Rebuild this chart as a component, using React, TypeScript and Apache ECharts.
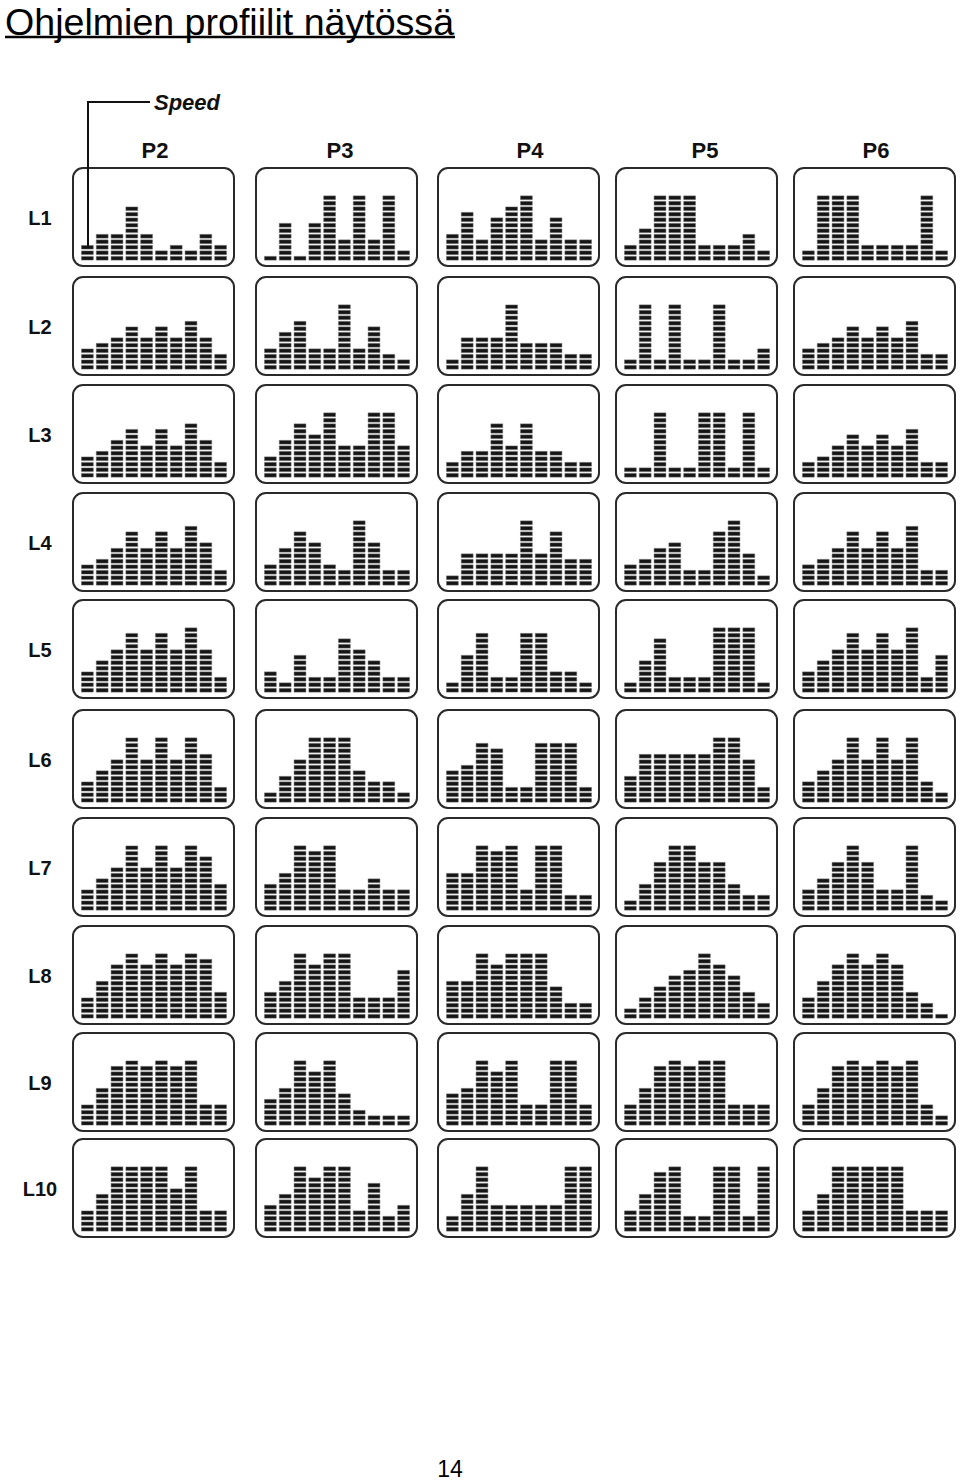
import React, { useEffect, useRef } from "react";
import * as echarts from "echarts";

// ---------- labels ----------
const PROGRAMS = ["P2", "P3", "P4", "P5", "P6"];
const LEVELS = ["L1", "L2", "L3", "L4", "L5", "L6", "L7", "L8", "L9", "L10"];
const STEPS = ["1", "2", "3", "4", "5", "6", "7", "8", "9", "10"];
const TITLE = "Ohjelmien profiilit näytössä";
const SPEED_LABEL = "Speed";
const PAGE_NUMBER = "14";
const MAX_SEGMENTS = 12;

// ---------- profile values (number of lit segments per step) ----------
const L1_P2 = [3, 5, 5, 10, 5, 2, 3, 2, 5, 3];
const L1_P3 = [1, 7, 1, 7, 12, 4, 12, 4, 12, 2];
const L1_P4 = [5, 9, 4, 8, 10, 12, 4, 8, 4, 4];
const L1_P5 = [3, 6, 12, 12, 12, 3, 3, 3, 5, 2];
const L1_P6 = [2, 12, 12, 12, 3, 3, 3, 3, 12, 2];

const L2_P2 = [4, 5, 6, 8, 6, 8, 6, 9, 6, 3];
const L2_P3 = [4, 7, 9, 4, 4, 12, 4, 8, 3, 2];
const L2_P4 = [2, 6, 6, 6, 12, 5, 5, 5, 3, 3];
const L2_P5 = [2, 12, 2, 12, 2, 2, 12, 2, 2, 4];
const L2_P6 = [4, 5, 6, 8, 6, 8, 6, 9, 3, 3];

const L3_P2 = [4, 5, 7, 9, 6, 9, 6, 10, 7, 3];
const L3_P3 = [4, 7, 10, 8, 12, 6, 6, 12, 12, 6];
const L3_P4 = [3, 5, 5, 10, 6, 10, 5, 5, 3, 3];
const L3_P5 = [2, 2, 12, 2, 2, 12, 12, 2, 12, 2];
const L3_P6 = [3, 4, 6, 8, 6, 8, 6, 9, 3, 3];

const L4_P2 = [4, 5, 7, 10, 7, 10, 7, 11, 8, 3];
const L4_P3 = [4, 7, 10, 8, 4, 3, 12, 8, 3, 3];
const L4_P4 = [2, 6, 6, 6, 6, 12, 6, 10, 5, 5];
const L4_P5 = [4, 5, 7, 8, 3, 3, 10, 12, 6, 2];
const L4_P6 = [4, 5, 7, 10, 7, 10, 7, 11, 3, 3];

const L5_P2 = [4, 6, 8, 11, 8, 11, 8, 12, 8, 3];
const L5_P3 = [4, 2, 7, 3, 3, 10, 8, 6, 3, 3];
const L5_P4 = [2, 7, 11, 3, 3, 11, 11, 4, 4, 2];
const L5_P5 = [2, 6, 10, 3, 3, 3, 12, 12, 12, 2];
const L5_P6 = [4, 6, 8, 11, 8, 11, 8, 12, 3, 7];

const L6_P2 = [4, 6, 8, 12, 8, 12, 8, 12, 9, 3];
const L6_P3 = [2, 5, 8, 12, 12, 12, 6, 4, 4, 2];
const L6_P4 = [6, 7, 11, 10, 3, 3, 11, 11, 11, 3];
const L6_P5 = [5, 9, 9, 9, 9, 9, 12, 12, 8, 3];
const L6_P6 = [4, 6, 8, 12, 8, 12, 8, 12, 4, 2];

const L7_P2 = [4, 6, 8, 12, 8, 12, 8, 12, 10, 5];
const L7_P3 = [5, 7, 12, 11, 12, 4, 4, 6, 4, 4];
const L7_P4 = [7, 7, 12, 11, 12, 4, 12, 12, 3, 3];
const L7_P5 = [2, 5, 9, 12, 12, 9, 9, 5, 3, 3];
const L7_P6 = [4, 6, 9, 12, 9, 4, 4, 12, 3, 2];

const L8_P2 = [4, 7, 10, 12, 10, 12, 10, 12, 11, 5];
const L8_P3 = [5, 7, 12, 10, 12, 12, 4, 4, 4, 9];
const L8_P4 = [7, 7, 12, 10, 12, 12, 12, 6, 3, 3];
const L8_P5 = [2, 4, 6, 8, 9, 12, 10, 8, 5, 3];
const L8_P6 = [4, 7, 10, 12, 10, 12, 10, 5, 3, 1];

const L9_P2 = [4, 7, 11, 12, 11, 12, 11, 12, 4, 4];
const L9_P3 = [5, 7, 12, 10, 12, 6, 3, 2, 2, 2];
const L9_P4 = [6, 7, 12, 10, 12, 4, 4, 12, 12, 4];
const L9_P5 = [4, 7, 11, 12, 11, 12, 12, 4, 4, 4];
const L9_P6 = [4, 7, 11, 12, 11, 12, 11, 12, 4, 2];

const L10_P2 = [4, 7, 12, 12, 12, 12, 8, 12, 4, 4];
const L10_P3 = [5, 7, 12, 10, 12, 12, 4, 9, 3, 5];
const L10_P4 = [3, 7, 12, 5, 5, 5, 5, 5, 12, 12];
const L10_P5 = [4, 7, 11, 12, 3, 3, 12, 12, 3, 12];
const L10_P6 = [4, 7, 12, 12, 12, 12, 12, 4, 4, 4];

const PROFILE_ROWS = [
  [L1_P2, L1_P3, L1_P4, L1_P5, L1_P6],
  [L2_P2, L2_P3, L2_P4, L2_P5, L2_P6],
  [L3_P2, L3_P3, L3_P4, L3_P5, L3_P6],
  [L4_P2, L4_P3, L4_P4, L4_P5, L4_P6],
  [L5_P2, L5_P3, L5_P4, L5_P5, L5_P6],
  [L6_P2, L6_P3, L6_P4, L6_P5, L6_P6],
  [L7_P2, L7_P3, L7_P4, L7_P5, L7_P6],
  [L8_P2, L8_P3, L8_P4, L8_P5, L8_P6],
  [L9_P2, L9_P3, L9_P4, L9_P5, L9_P6],
  [L10_P2, L10_P3, L10_P4, L10_P5, L10_P6],
];

// ---------- layout ----------
const PANEL_X = [73, 256, 438, 616, 794];
const PANEL_Y = [168, 277, 385, 493, 600, 710, 818, 926, 1033, 1139];
const PANEL_W = 161;
const PANEL_H = 98;
const PROGRAM_LABEL_X = [155, 340, 530, 705, 876];
const FONT = "'Liberation Sans', Arial, Helvetica, sans-serif";

// draws one column of lit segments using the axis scales
function renderSegments(params: any, api: any) {
  const step = api.value(0);
  const count = api.value(1);
  const bandW = api.size([1, 0])[0];
  const segW = bandW * 0.8;
  const children: any[] = [];
  for (let k = 0; k < count; k++) {
    const lo = api.coord([step, k]);
    const hi = api.coord([step, k + 1]);
    const pitch = lo[1] - hi[1];
    const h = pitch * 0.68;
    children.push({
      type: "rect",
      shape: { x: lo[0] - segW / 2, y: hi[1] + (pitch - h) / 2, width: segW, height: h },
      style: { fill: "#151515", stroke: "#6a6a6a", lineWidth: 0.5 },
    });
  }
  return { type: "group", children };
}

export default function App() {
  const ref = useRef<HTMLDivElement>(null);

  useEffect(() => {
    document.body.style.margin = "0";
    if (!ref.current) return;
    const chart = echarts.init(ref.current, undefined, { renderer: "svg" });

    const grid: any[] = [];
    const xAxis: any[] = [];
    const yAxis: any[] = [];
    const series: any[] = [];

    PROFILE_ROWS.forEach((row, r) => {
      row.forEach((vals, c) => {
        const i = r * PROGRAMS.length + c;
        grid.push({
          left: PANEL_X[c] + 7,
          top: PANEL_Y[r] + 27,
          width: 148,
          height: 66,
          containLabel: false,
        });
        xAxis.push({ type: "category", gridIndex: i, data: STEPS, show: false });
        yAxis.push({ type: "value", gridIndex: i, min: 0, max: MAX_SEGMENTS, show: false });
        series.push({
          type: "custom",
          name: `${LEVELS[r]} ${PROGRAMS[c]}`,
          xAxisIndex: i,
          yAxisIndex: i,
          silent: true,
          renderItem: renderSegments,
          encode: { x: 0, y: 1 },
          data: vals.map((v, k) => [k, v]),
        });
      });
    });

    const graphics: any[] = [];
    graphics.push({
      type: "text",
      x: 5,
      y: 22,
      style: {
        text: TITLE,
        fontFamily: FONT,
        fontSize: 37.6,
        fill: "#000",
        verticalAlign: "middle",
        align: "left",
      },
    });
    graphics.push({
      type: "line",
      shape: { x1: 5, y1: 37, x2: 455, y2: 37 },
      style: { stroke: "#000", lineWidth: 2.5 },
    });
    graphics.push({
      type: "text",
      x: 154,
      y: 102,
      style: {
        text: SPEED_LABEL,
        fontFamily: FONT,
        fontSize: 22,
        fontWeight: "bold",
        fontStyle: "italic",
        fill: "#111",
        verticalAlign: "middle",
        align: "left",
      },
    });
    graphics.push({
      type: "polyline",
      shape: { points: [[150, 102], [88, 102], [88, 247]] },
      style: { stroke: "#111", lineWidth: 2, fill: "none" },
      z: 10,
    });
    PROGRAMS.forEach((p, c) => {
      graphics.push({
        type: "text",
        x: PROGRAM_LABEL_X[c],
        y: 150,
        style: {
          text: p,
          fontFamily: FONT,
          fontSize: 22,
          fontWeight: "bold",
          fill: "#111",
          align: "center",
          verticalAlign: "middle",
        },
      });
    });
    LEVELS.forEach((l, r) => {
      graphics.push({
        type: "text",
        x: 40,
        y: PANEL_Y[r] + PANEL_H / 2 + 1,
        style: {
          text: l,
          fontFamily: FONT,
          fontSize: 20,
          fontWeight: "bold",
          fill: "#111",
          align: "center",
          verticalAlign: "middle",
        },
      });
      PROGRAMS.forEach((_, c) => {
        graphics.push({
          type: "rect",
          shape: { x: PANEL_X[c], y: PANEL_Y[r], width: PANEL_W, height: PANEL_H, r: 10 },
          style: { fill: "none", stroke: "#2a2a2a", lineWidth: 2 },
          z: -1,
        });
      });
    });
    graphics.push({
      type: "text",
      x: 450,
      y: 1469,
      style: {
        text: PAGE_NUMBER,
        fontFamily: FONT,
        fontSize: 23,
        fill: "#000",
        align: "center",
        verticalAlign: "middle",
      },
    });

    chart.setOption({
      animation: false,
      backgroundColor: "#fff",
      grid,
      xAxis,
      yAxis,
      series,
      graphic: graphics,
    });

    return () => chart.dispose();
  }, []);

  return <div ref={ref} style={{ width: 960, height: 1481 }} />;
}
